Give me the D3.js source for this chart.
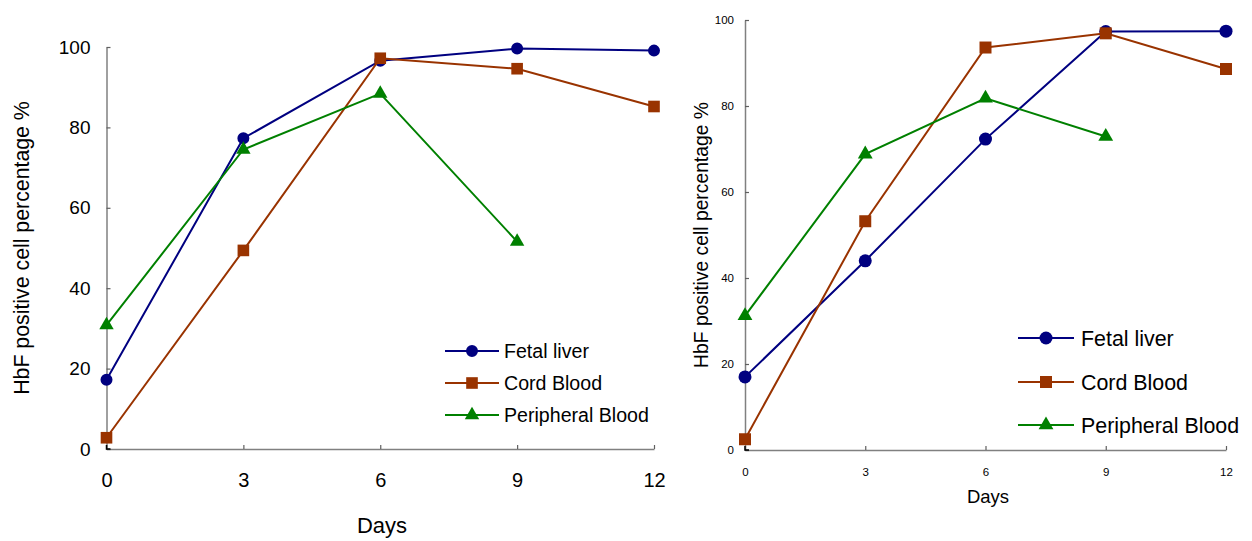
<!DOCTYPE html>
<html>
<head>
<meta charset="utf-8">
<script src="https://cdn.jsdelivr.net/npm/d3@7"></script>
<style>
  html, body { margin: 0; padding: 0; background: #fff; }
  svg { display: block; font-family: "Liberation Sans", Arial, sans-serif; }
</style>
</head>
<body>
<svg id="chart" width="1252" height="541"></svg>
<script>
// ---- data ----
const days = [0, 3, 6, 9, 12];
const xTicks = [0, 3, 6, 9, 12];
const yTicks = [0, 20, 40, 60, 80, 100];
const seriesNames = ["Fetal liver", "Cord Blood", "Peripheral Blood"];

// Left panel
const leftFetalLiver = [17.2, 77.3, 96.6, 99.6, 99.1];
const leftCordBlood = [2.8, 49.4, 97.2, 94.6, 85.2];
const leftPeripheralBlood = [30.8, 74.5, 88.4, 51.6];

// Right panel
const rightFetalLiver = [17.0, 44.0, 72.3, 97.3, 97.4];
const rightCordBlood = [2.5, 53.2, 93.6, 96.9, 88.6];
const rightPeripheralBlood = [31.2, 68.8, 81.8, 72.9];

const colors = ["#000080", "#993300", "#008000"];
const symbols = [d3.symbolCircle, d3.symbolSquare, d3.symbolTriangle];

const svg = d3.select("#chart");

function panel(cfg) {
  const x = d3.scaleLinear().domain([0, 12]).range([cfg.x0, cfg.x1]);
  const y = d3.scaleLinear().domain([0, 100]).range([cfg.y0, cfg.y1]);
  const g = svg.append("g");

  // axes
  const xAxis = d3.axisBottom(x).tickValues(xTicks).tickSizeInner(-4).tickSizeOuter(0).tickPadding(cfg.xPad);
  const yAxis = d3.axisLeft(y).tickValues(yTicks).tickSizeInner(-4).tickSizeOuter(0).tickPadding(cfg.yPad);
  const gx = g.append("g").attr("transform", `translate(0,${cfg.y0})`).call(xAxis);
  const gy = g.append("g").attr("transform", `translate(${cfg.x0},0)`).call(yAxis);
  [gx, gy].forEach(a => {
    a.select(".domain").attr("stroke", "#808080").attr("stroke-width", 1.5);
    a.selectAll(".tick line").attr("stroke", "#606060").attr("stroke-width", 1.2);
    a.selectAll(".tick text").attr("fill", "#000")
      .style("font-family", '"Liberation Sans", Arial, sans-serif');
  });
  gx.selectAll(".tick text").style("font-size", cfg.xTickFont + "px");
  gy.selectAll(".tick text").style("font-size", cfg.yTickFont + "px");
  // small black corner at origin
  g.append("path")
    .attr("d", `M${cfg.x0},${cfg.y0 - 4}V${cfg.y0}H${cfg.x0 + 4}`)
    .attr("fill", "none").attr("stroke", "#000").attr("stroke-width", 1.5);

  // axis titles
  g.append("text")
    .attr("x", cfg.xTitleX).attr("y", cfg.xTitleY)
    .attr("text-anchor", "middle")
    .style("font-size", cfg.xTitleFont + "px")
    .text("Days");
  g.append("text")
    .attr("transform", `translate(${cfg.yTitleX},${cfg.yTitleY}) rotate(-90)`)
    .attr("text-anchor", "middle")
    .style("font-size", cfg.yTitleFont + "px")
    .text("HbF positive cell percentage %");

  // series
  const line = d3.line().x((d, i) => x(days[i])).y(d => y(d));
  cfg.series.forEach((vals, k) => {
    g.append("path")
      .attr("d", line(vals))
      .attr("fill", "none")
      .attr("stroke", colors[k])
      .attr("stroke-width", 2);
    g.selectAll(null).data(vals).enter().append("path")
      .attr("transform", (d, i) => `translate(${x(days[i])},${y(d)})`)
      .attr("d", d3.symbol().type(symbols[k]).size(cfg.symSizes[k]))
      .attr("fill", colors[k]);
  });

  // legend
  seriesNames.forEach((name, k) => {
    const ly = cfg.legY[k];
    g.append("line")
      .attr("x1", cfg.legX0).attr("x2", cfg.legX1)
      .attr("y1", ly).attr("y2", ly)
      .attr("stroke", colors[k]).attr("stroke-width", 2);
    g.append("path")
      .attr("transform", `translate(${(cfg.legX0 + cfg.legX1) / 2},${ly})`)
      .attr("d", d3.symbol().type(symbols[k]).size(cfg.symSizes[k]))
      .attr("fill", colors[k]);
    g.append("text")
      .attr("x", cfg.legTextX).attr("y", ly)
      .attr("dy", "0.36em")
      .style("font-size", cfg.legFont + "px")
      .text(name);
  });
}

panel({
  x0: 106.5, x1: 654, y0: 449, y1: 47,
  xPad: 24, yPad: 16, xTickFont: 20, yTickFont: 19,
  xTitleX: 382, xTitleY: 533, xTitleFont: 22,
  yTitleX: 29, yTitleY: 248, yTitleFont: 21.3,
  series: [leftFetalLiver, leftCordBlood, leftPeripheralBlood],
  symSizes: [113, 135, 90],
  legX0: 445, legX1: 499, legTextX: 504, legY: [351, 383, 415], legFont: 19.6
});

panel({
  x0: 745, x1: 1226, y0: 450, y1: 20,
  xPad: 18, yPad: 11, xTickFont: 11.5, yTickFont: 11.5,
  xTitleX: 988, xTitleY: 503, xTitleFont: 18.5,
  yTitleX: 708, yTitleY: 235, yTitleFont: 19.3,
  series: [rightFetalLiver, rightCordBlood, rightPeripheralBlood],
  symSizes: [133, 144, 95],
  legX0: 1018, legX1: 1074, legTextX: 1081, legY: [338, 382, 425], legFont: 21.4
});
</script>
</body>
</html>
